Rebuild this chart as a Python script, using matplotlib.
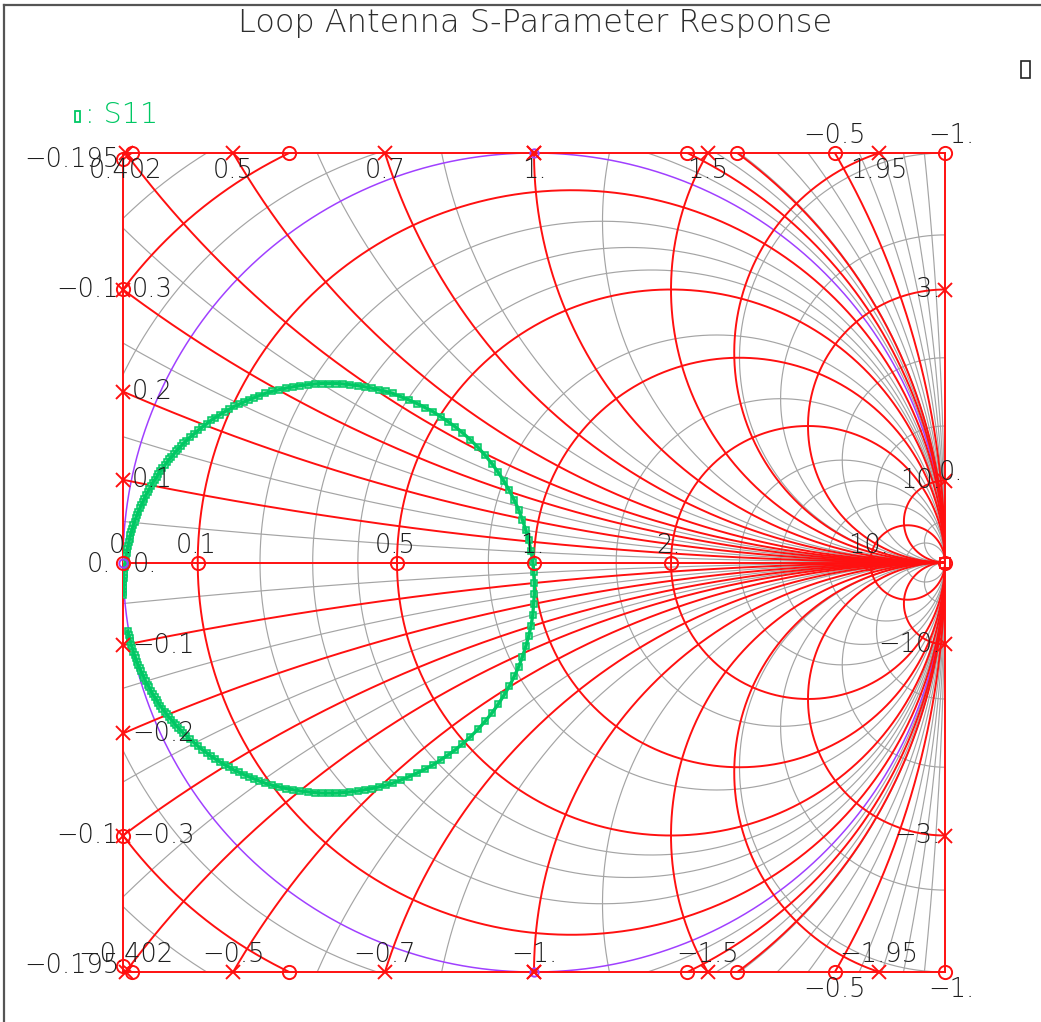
import numpy as np
import matplotlib
matplotlib.use("Agg")
import matplotlib.pyplot as plt
from matplotlib.lines import Line2D
from matplotlib.patches import Rectangle

W, H = 1041, 1022

s11_re = [-0.988, -0.986, -0.984, -0.982, -0.980, -0.977, -0.975, -0.972, -0.969, -0.966,
          -0.963, -0.959, -0.956, -0.952, -0.948, -0.945, -0.940, -0.936, -0.932, -0.928,
          -0.923, -0.918, -0.914, -0.909, -0.904, -0.898, -0.893, -0.888, -0.882, -0.876,
          -0.871, -0.865, -0.859, -0.853, -0.846,
          -0.837, -0.827, -0.817, -0.807, -0.796, -0.786, -0.775, -0.764, -0.753, -0.741,
          -0.730, -0.718, -0.706, -0.694, -0.682,
          -0.670, -0.654, -0.637, -0.620, -0.603, -0.586, -0.569, -0.551, -0.534, -0.516,
          -0.499, -0.482, -0.464, -0.447, -0.429, -0.412, -0.395, -0.378, -0.361, -0.344,
          -0.324, -0.304, -0.284, -0.264, -0.245, -0.227, -0.209, -0.191,
          -0.174, -0.155, -0.136, -0.119, -0.102, -0.087, -0.073, -0.060, -0.048, -0.037,
          -0.028, -0.020, -0.013, -0.007, -0.003, -0.001, 0.001,
          0.001, -0.001, -0.003, -0.007, -0.013, -0.020, -0.028, -0.037, -0.048, -0.060,
          -0.073, -0.087, -0.102, -0.119, -0.136, -0.155, -0.174,
          -0.191, -0.209, -0.227, -0.245, -0.264, -0.284, -0.304, -0.324,
          -0.344, -0.361, -0.378, -0.395, -0.412, -0.429, -0.447, -0.464, -0.482, -0.499,
          -0.516, -0.534, -0.551, -0.569, -0.586, -0.603, -0.620, -0.637, -0.654, -0.670,
          -0.682, -0.694, -0.706, -0.718, -0.730, -0.741, -0.753, -0.764, -0.775, -0.786,
          -0.796, -0.807, -0.817, -0.827, -0.837,
          -0.846, -0.853, -0.859, -0.865, -0.871, -0.876, -0.882, -0.888, -0.893, -0.898,
          -0.904, -0.909, -0.914, -0.918, -0.923, -0.928, -0.932, -0.936, -0.940, -0.945,
          -0.948, -0.952, -0.956, -0.959, -0.963, -0.966, -0.969, -0.972, -0.975, -0.977,
          -0.980, -0.982, -0.984, -0.986, -0.988, -0.990, -0.991, -0.993, -0.994, -0.995,
          -0.996, -0.997, -0.998, -0.998, -0.999, -0.999, -0.999, -0.999, -0.999]
s11_im = [-0.167, -0.176, -0.184, -0.192, -0.201, -0.209, -0.218, -0.226, -0.234, -0.242,
          -0.250, -0.258, -0.266, -0.274, -0.282, -0.290, -0.298, -0.305, -0.313, -0.321,
          -0.328, -0.335, -0.343, -0.350, -0.357, -0.364, -0.371, -0.378, -0.384, -0.391,
          -0.398, -0.404, -0.410, -0.417, -0.423,
          -0.432, -0.440, -0.449, -0.457, -0.465, -0.473, -0.480, -0.487, -0.494, -0.500,
          -0.507, -0.512, -0.518, -0.523, -0.528,
          -0.533, -0.539, -0.544, -0.548, -0.552, -0.555, -0.558, -0.560, -0.562, -0.563,
          -0.563, -0.563, -0.562, -0.560, -0.558, -0.555, -0.552, -0.548, -0.544, -0.539,
          -0.531, -0.523, -0.514, -0.504, -0.494, -0.482, -0.470, -0.457,
          -0.443, -0.426, -0.407, -0.388, -0.367, -0.346, -0.324, -0.302, -0.278, -0.254,
          -0.230, -0.205, -0.180, -0.154, -0.128, -0.102, -0.076,
          -0.050, -0.024, 0.002, 0.028, 0.054, 0.079, 0.104, 0.128, 0.152, 0.176,
          0.198, 0.220, 0.241, 0.262, 0.281, 0.300, 0.317,
          0.331, 0.344, 0.356, 0.368, 0.378, 0.388, 0.397, 0.405,
          0.413, 0.418, 0.422, 0.426, 0.429, 0.432, 0.434, 0.436, 0.437, 0.437,
          0.437, 0.436, 0.434, 0.432, 0.429, 0.426, 0.422, 0.418, 0.413, 0.407,
          0.402, 0.397, 0.392, 0.386, 0.381, 0.374, 0.368, 0.361, 0.354, 0.347,
          0.339, 0.331, 0.323, 0.314, 0.306,
          0.297, 0.291, 0.284, 0.278, 0.272, 0.265, 0.258, 0.252, 0.245, 0.238,
          0.231, 0.224, 0.217, 0.209, 0.202, 0.195, 0.187, 0.179, 0.172, 0.164,
          0.156, 0.148, 0.140, 0.132, 0.124, 0.116, 0.108, 0.100, 0.092, 0.083,
          0.075, 0.066, 0.058, 0.049, 0.041, 0.032, 0.024, 0.015, 0.007, -0.002,
          -0.011, -0.019, -0.028, -0.037, -0.046, -0.054, -0.063, -0.072, -0.080]

# labelled (red) grid values
r_major = [0.1, 0.5, 1.0, 2.0, 10.0]
r_negative = [-0.1, -0.195, -0.5]
x_major = [0.1, 0.2, 0.3, 0.402, 0.5, 0.7, 1.0, 1.5, 1.95, 3.0, 10.0]
# unlabelled (gray) grid values
r_minor = [-0.9, -0.8, -0.7, -0.6, -0.4, -0.3, -0.2, -0.15, -0.05,
           0.2, 0.3, 0.4, 0.8, 1.5, 3.0, 4.0, 6.0, 20.0]
x_minor = [0.05, 0.15, 0.25, 0.35, 0.6, 0.8, 1.2, 2.0, 2.5, 4.0, 6.0, 20.0]

RED = '#ff1010'
GRAY = '#a4a4a4'
PURPLE = '#a040ff'
GREEN = '#00c864'
INK = '#1e1e1e'
FS = 18.5
plt.rcParams['font.family'] = ['DejaVu Sans']

fig = plt.figure(figsize=(W / 100, H / 100), dpi=100)
ax = fig.add_axes([123 / W, 1 - 972 / H, 822 / W, 819 / H])
ax.set_xlim(-1, 1)
ax.set_ylim(-1, 1)
ax.set_xticks([])
ax.set_yticks([])
for sp in ax.spines.values():
    sp.set_color(RED)
    sp.set_linewidth(1.4)
    sp.set_zorder(4)

t = np.linspace(0, 2 * np.pi, 12000)


def r_circle(r):
    return r / (1 + r), 0.0, 1 / abs(1 + r)


def x_circle(x):
    return 1.0, 1 / x, 1 / abs(x)


def draw_circle(c, **kw):
    cx, cy, R = c
    ax.plot(cx + R * np.cos(t), cy + R * np.sin(t), **kw)


def edge_hits(c):
    cx, cy, R = c
    pts = []
    for X in (-1.0, 1.0):
        d = R * R - (X - cx) ** 2
        if d >= 0:
            for s in (1, -1):
                Y = cy + s * np.sqrt(d)
                if abs(Y) <= 1.0001 and not (X > 0 and abs(Y) < 1e-6):
                    pts.append(('left' if X < 0 else 'right', X, Y))
    for Y in (1.0, -1.0):
        d = R * R - (Y - cy) ** 2
        if d >= 0:
            for s in (1, -1):
                X = cx + s * np.sqrt(d)
                if abs(X) <= 1.0001:
                    pts.append(('top' if Y > 0 else 'bottom', X, Y))
    return pts


def fmt(v):
    s = f"{abs(v):g}"
    if '.' not in s:
        s += '.'
    return ('\u2212' if v < 0 else '') + s


def label(text, X, Y, ha, va, dx, dy):
    ax.annotate(text, (X, Y), xytext=(dx / 1.389, dy / 1.389), textcoords='offset points',
                ha=ha, va=va, fontsize=FS, color=INK, fontweight='light',
                annotation_clip=False, zorder=8)


def mark(X, Y, m, color=RED, ms=9.5):
    ax.plot(X, Y, marker=m, ms=ms, mfc='none', mec=color, mew=1.4, ls='none',
            clip_on=False, zorder=7)


# gray minor grid
for r in r_minor:
    draw_circle(r_circle(r), color=GRAY, lw=0.85, zorder=1)
for x in x_minor:
    draw_circle(x_circle(x), color=GRAY, lw=0.85, zorder=1)
    draw_circle(x_circle(-x), color=GRAY, lw=0.85, zorder=1)

# r = 0 circle
draw_circle((0.0, 0.0, 1.0), color=PURPLE, lw=1.1, zorder=2)
for X, Y in [(-1, 0), (0, 1), (0, -1)]:
    mark(X, Y, 'o', PURPLE, 6)

# red labelled grid
ax.axhline(0, color=RED, lw=1.4, zorder=3)
for r in r_major + r_negative:
    draw_circle(r_circle(r), color=RED, lw=1.4, zorder=3)
for x in x_major:
    for xs in (x, -x):
        draw_circle(x_circle(xs), color=RED, lw=1.4, zorder=3)

# markers and labels on the centre line
for r in [0.0] + r_major:
    X = (r - 1) / (r + 1)
    mark(X, 0, 'o')
    label(fmt(r), X, 0, 'center', 'bottom', -2, 5)
mark(1, 0, 'o')
mark(1, 0, 's', ms=7)
label('0.', -1, 0, 'right', 'center', -12, -2)
label('0.', -1, 0, 'left', 'center', 10, -2)

# reactance arcs: crosses at the box edge
for x in x_major:
    for xs in (x, -x):
        for edge, X, Y in edge_hits(x_circle(xs)):
            mark(X, Y, 'x')
            if edge == 'left':
                label(fmt(xs), X, Y, 'left', 'center', 9, 0)
            elif edge == 'right':
                label(fmt(xs), X, Y, 'right', 'center', -4, 0)
            elif edge == 'top':
                label(fmt(xs), X, Y, 'center', 'top', 0, -5)
            else:
                label(fmt(xs), X, Y, 'center', 'bottom', 0, 5)
mark(0, 1, 'x')
mark(0, -1, 'x')

# negative resistance circles: rings at the box edge
for r in r_negative:
    hits = edge_hits(r_circle(r))
    for edge, X, Y in hits:
        mark(X, Y, 'o')
    for side in ('top', 'bottom'):
        cand = [h for h in hits if h[0] == 'left' and (h[2] > 0) == (side == 'top')]
        if not cand:
            cand = [h for h in hits if h[0] == side]
        if cand:
            edge, X, Y = cand[0]
            if edge == 'left':
                label(fmt(r), X, Y, 'right', 'center', -4, 0)
            elif edge == 'top':
                label(fmt(r), X, Y, 'center', 'bottom', 0, 5)
            else:
                label(fmt(r), X, Y, 'center', 'top', 0, -5)
mark(1, 1, 'o')
mark(1, -1, 'o')
label(fmt(-1.0), 1, 1, 'center', 'bottom', 6, 5)
label(fmt(-1.0), 1, -1, 'center', 'top', 6, -5)
label('0.', 1, 0.22, 'left', 'center', -6, 0)

# S11 trace: square markers, the line drawn over them
ax.plot(s11_re, s11_im, ls='none', marker='s', ms=4.8, mfc='#8ee6b6',
        mec=GREEN, mew=1.1, zorder=6)
ax.plot(s11_re, s11_im, color=GREEN, lw=2.4, zorder=6.5)

# legend
fig.add_artist(Rectangle((75 / W, 1 - 122 / H), 5 / W, 11 / H, fill=False,
                         ec=GREEN, lw=1.3))
fig.text(85 / W, 1 - 115 / H, ': S11', color=GREEN, fontsize=20.5, fontweight='light',
         va='center', ha='left')

# title and frame
fig.text(535 / W, 1 - 23 / H, 'Loop Antenna S-Parameter Response', color='#2e2e2e',
         fontsize=23, fontweight='light', ha='center', va='center')
fig.add_artist(Rectangle((1021 / W, 1 - 78 / H), 9 / W, 17 / H, fill=False,
                         ec='#222222', lw=1.2))
fig.add_artist(Line2D([4 / W, 4 / W], [0, 1 - 5 / H], color='#555555', lw=1.6))
fig.add_artist(Line2D([4 / W, 1], [1 - 5 / H, 1 - 5 / H], color='#555555', lw=1.6))

fig.savefig('out.png', dpi=100)
